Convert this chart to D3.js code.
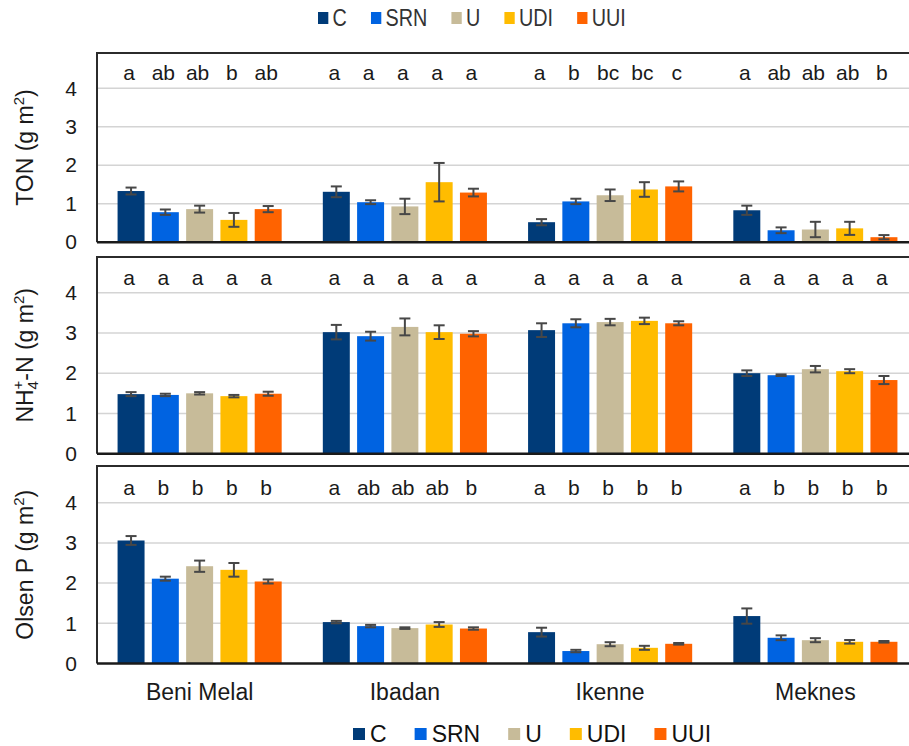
<!DOCTYPE html>
<html>
<head>
<meta charset="utf-8">
<script src="https://cdn.jsdelivr.net/npm/d3@7"></script>
<style>
  body { margin: 0; background: #fff; }
  svg { display: block; font-family: "Liberation Sans", Arial, sans-serif; }
</style>
</head>
<body>
<svg id="chart" width="909" height="746"></svg>
<script>
// Sites and fertiliser treatments
const sites = ["Beni Melal", "Ibadan", "Ikenne", "Meknes"];
const treatments = ["C", "SRN", "U", "UDI", "UUI"];
const treatmentColors = ["#003b78", "#0063e1", "#c7bb99", "#ffbc00", "#ff6300"];
const yTicks = [0, 1, 2, 3, 4];

// Total organic N (g m-2): mean and standard error per site x treatment
const tonMean = [
  [1.33, 0.78, 0.86, 0.58, 0.86],
  [1.31, 1.04, 0.93, 1.56, 1.29],
  [0.52, 1.06, 1.22, 1.37, 1.45],
  [0.83, 0.31, 0.33, 0.36, 0.13]
];
const tonErr = [
  [0.09, 0.07, 0.09, 0.18, 0.08],
  [0.14, 0.05, 0.20, 0.50, 0.10],
  [0.08, 0.07, 0.15, 0.19, 0.13],
  [0.12, 0.075, 0.20, 0.17, 0.055]
];
const tonLetters = [
  ["a", "ab", "ab", "b", "ab"],
  ["a", "a", "a", "a", "a"],
  ["a", "b", "bc", "bc", "c"],
  ["a", "ab", "ab", "ab", "b"]
];

// NH4+-N (g m-2)
const nh4Mean = [
  [1.48, 1.46, 1.50, 1.43, 1.49],
  [3.02, 2.92, 3.15, 3.02, 2.98],
  [3.07, 3.24, 3.27, 3.30, 3.24],
  [2.00, 1.95, 2.10, 2.05, 1.83]
];
const nh4Err = [
  [0.05, 0.03, 0.03, 0.03, 0.05],
  [0.18, 0.11, 0.21, 0.17, 0.065],
  [0.17, 0.10, 0.08, 0.08, 0.05],
  [0.07, 0.02, 0.08, 0.05, 0.10]
];
const nh4Letters = [
  ["a", "a", "a", "a", "a"],
  ["a", "a", "a", "a", "a"],
  ["a", "a", "a", "a", "a"],
  ["a", "a", "a", "a", "a"]
];

// Olsen P (g m-2)
const olsenMean = [
  [3.06, 2.11, 2.42, 2.33, 2.04],
  [1.03, 0.93, 0.88, 0.97, 0.87],
  [0.78, 0.31, 0.48, 0.39, 0.49],
  [1.18, 0.64, 0.58, 0.54, 0.54]
];
const olsenErr = [
  [0.11, 0.05, 0.14, 0.17, 0.05],
  [0.03, 0.03, 0.02, 0.06, 0.03],
  [0.11, 0.03, 0.05, 0.05, 0.02],
  [0.19, 0.06, 0.05, 0.045, 0.02]
];
const olsenLetters = [
  ["a", "b", "b", "b", "b"],
  ["a", "ab", "ab", "ab", "b"],
  ["a", "b", "b", "b", "b"],
  ["a", "b", "b", "b", "b"]
];

const svg = d3.select("#chart");

// Shared horizontal scales: sites, then treatments within each site
const x0 = d3.scaleBand().domain(sites).range([97, 918]).paddingInner(0).paddingOuter(0);
const x1 = d3.scaleBand().domain(treatments).range([0, x0.bandwidth()])
  .paddingInner(0.213).paddingOuter(0.6);
const color = d3.scaleOrdinal().domain(treatments).range(treatmentColors);

const panels = [
  { mean: tonMean, err: tonErr, letters: tonLetters, top: 53, y0: 242.2, y4: 88.3, title: "ton" },
  { mean: nh4Mean, err: nh4Err, letters: nh4Letters, top: 257, y0: 453.7, y4: 292.7, title: "nh4" },
  { mean: olsenMean, err: olsenErr, letters: olsenLetters, top: 466, y0: 663.5, y4: 502.7, title: "olsen" }
];

panels.forEach((p, pi) => {
  const g = svg.append("g");
  const y = d3.scaleLinear().domain([0, 4]).range([p.y0, p.y4]);

  // gridlines
  g.append("g").selectAll("line").data(yTicks.filter(t => t > 0)).join("line")
    .attr("x1", 98).attr("x2", 909)
    .attr("y1", d => y(d)).attr("y2", d => y(d))
    .attr("stroke", "#d4d4d4").attr("stroke-width", 1.5);

  // y axis labels
  const axis = d3.axisLeft(y).tickValues(yTicks).tickSize(0).tickPadding(20).tickFormat(d3.format("d"));
  const ag = g.append("g").attr("transform", "translate(97,0)").call(axis);
  ag.select(".domain").remove();
  ag.selectAll("text").attr("font-size", 21).attr("fill", "#1a1a1a")
    .attr("font-family", "Liberation Sans, Arial, sans-serif");

  // bars, error bars and letters per site
  const rows = [];
  sites.forEach((s, si) => treatments.forEach((t, ti) => {
    rows.push({ site: s, trt: t, v: p.mean[si][ti], e: p.err[si][ti], l: p.letters[si][ti] });
  }));

  g.append("g").selectAll("rect").data(rows).join("rect")
    .attr("x", d => x0(d.site) + x1(d.trt))
    .attr("width", x1.bandwidth())
    .attr("y", d => y(d.v))
    .attr("height", d => y(0) - y(d.v))
    .attr("fill", d => color(d.trt));

  const eb = g.append("g").attr("stroke", "#474747").attr("stroke-width", 2).attr("fill", "none");
  rows.forEach(d => {
    const cx = x0(d.site) + x1(d.trt) + x1.bandwidth() / 2;
    const hi = y(d.v + d.e), lo = y(d.v - d.e);
    eb.append("line").attr("x1", cx).attr("x2", cx).attr("y1", hi).attr("y2", lo);
    eb.append("line").attr("x1", cx - 5.5).attr("x2", cx + 5.5).attr("y1", hi).attr("y2", hi);
    eb.append("line").attr("x1", cx - 5.5).attr("x2", cx + 5.5).attr("y1", lo).attr("y2", lo);
  });

  g.append("g").selectAll("text").data(rows).join("text")
    .attr("x", d => x0(d.site) + x1(d.trt) + x1.bandwidth() / 2 - 2)
    .attr("y", y(4) - 8)
    .attr("text-anchor", "middle")
    .attr("font-size", 21).attr("fill", "#1a1a1a")
    .text(d => d.l);

  // panel frame and baseline
  g.append("path")
    .attr("d", `M912,${p.top}H97V${p.y0}`)
    .attr("fill", "none").attr("stroke", "#2b2b2b").attr("stroke-width", 2);
  g.append("line").attr("x1", 97).attr("x2", 912).attr("y1", p.y0).attr("y2", p.y0)
    .attr("stroke", "#1a1a1a").attr("stroke-width", 2.5);

  // y title
  const cy = (p.top + p.y0) / 2;
  const tt = g.append("text")
    .attr("transform", `translate(33,${cy}) rotate(-90)`)
    .attr("text-anchor", "middle").attr("font-size", 23).attr("fill", "#1a1a1a");
  if (p.title === "ton") {
    tt.append("tspan").text("TON (g m");
  } else if (p.title === "nh4") {
    tt.append("tspan").text("NH");
    tt.append("tspan").attr("font-size", 15).attr("dy", 5).text("4");
    tt.append("tspan").attr("font-size", 15).attr("dx", -8.5).attr("dy", -15).text("+");
    tt.append("tspan").attr("dy", 10).text("-N (g m");
  } else {
    tt.append("tspan").text("Olsen P (g m");
  }
  tt.append("tspan").attr("font-size", 15).attr("dy", -9).text("2");
  tt.append("tspan").attr("dy", 9).text(")");

  // site labels under the last panel
  if (pi === panels.length - 1) {
    const xa = d3.axisBottom(x0).tickSize(0).tickPadding(20);
    const xg = g.append("g").attr("transform", `translate(0,${p.y0})`).call(xa);
    xg.select(".domain").remove();
    xg.selectAll("text").attr("font-size", 23).attr("fill", "#1a1a1a")
      .attr("font-family", "Liberation Sans, Arial, sans-serif");
  }
});

// Legend: square + label for each treatment
function legend(x, y, fontSize, scaleX, fill) {
  const lg = svg.append("g").attr("transform", `translate(${x},${y}) scale(${scaleX},1)`);
  let cursor = 0;
  treatments.forEach(t => {
    lg.append("rect").attr("x", cursor).attr("y", -6).attr("width", 12).attr("height", 12)
      .attr("fill", color(t));
    const txt = lg.append("text").attr("x", cursor + 17).attr("y", 0).attr("dy", "0.36em")
      .attr("font-size", fontSize).attr("fill", fill).text(t);
    cursor += 17 + txt.node().getComputedTextLength() + 28;
  });
}
legend(318, 18, 23, 0.86, "#333");
legend(353, 734, 23, 1, "#111");
</script>
</body>
</html>
